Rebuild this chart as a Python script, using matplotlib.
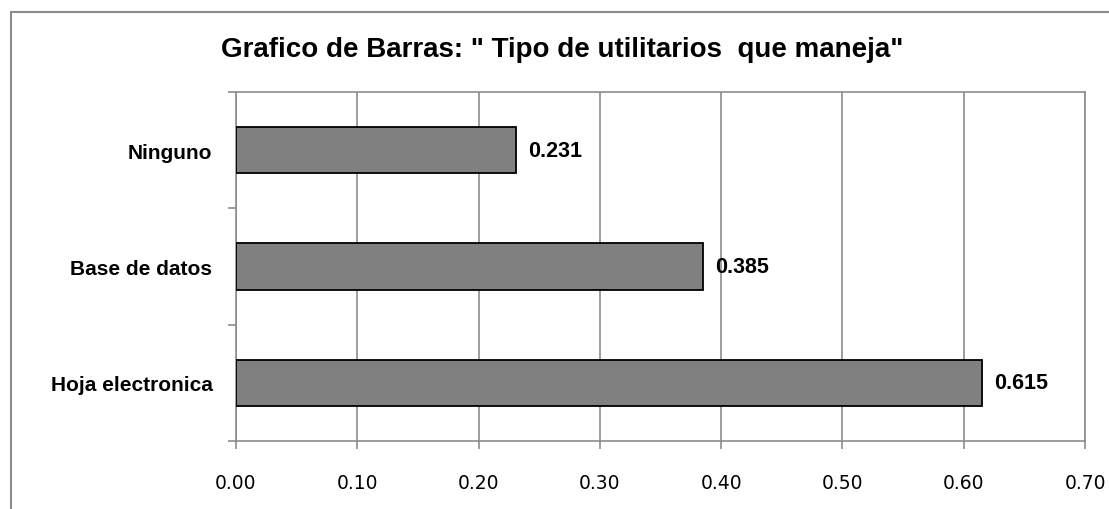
import matplotlib.pyplot as plt
import matplotlib.patches as patches
import numpy as np

# datos del grafico
categorias = ['Hoja electronica', 'Base de datos', 'Ninguno']
valores = [0.615, 0.385, 0.231]
etiquetas_x = ['0.00', '0.10', '0.20', '0.30', '0.40', '0.50', '0.60', '0.70']

gris = '#8c8c8c'

fig = plt.figure(figsize=(11.09, 5.10), dpi=100)
ax = fig.add_axes([236/1109, 1 - 442/510, (1085-236)/1109, (442-93)/510])

# marco exterior del grafico (solo se ve izquierda y arriba)
marco = patches.Rectangle((11/1109, -0.1), 1.2, 1 - 13/510 + 0.1,
                          transform=fig.transFigure, fill=False,
                          edgecolor=gris, linewidth=1.5, clip_on=False)
fig.patches.append(marco)

y = np.arange(len(categorias))
ax.barh(y, valores, height=0.4, color='#808080', edgecolor='black',
        linewidth=1.3, zorder=3)

for yi, v in zip(y, valores):
    ax.text(v + 0.01, yi, f'{v:.3f}', ha='left', va='center',
            fontsize=15.5, fontweight='bold', family='Liberation Sans')

ax.set_xlim(0, 0.7)
ax.set_ylim(-0.5, len(categorias) - 0.5)

ax.set_xticks(np.arange(0, 0.71, 0.1))
ax.set_xticklabels(etiquetas_x, fontsize=13.5, family='DejaVu Sans')
ax.xaxis.grid(True, color=gris, linewidth=1.2, zorder=0)
ax.tick_params(axis='x', length=6, width=1.2, color=gris, pad=17)

# ticks del eje y en los limites entre categorias, etiquetas centradas
ax.set_yticks(np.arange(-0.5, len(categorias), 1.0))
ax.set_yticklabels([])
ax.set_yticks(y, minor=True)
ax.set_yticklabels(categorias, minor=True, fontsize=15, fontweight='bold',
                   family='Liberation Sans')
ax.tick_params(axis='y', which='major', length=6, width=1.2, color=gris)
ax.tick_params(axis='y', which='minor', length=0, pad=17)

for s in ax.spines.values():
    s.set_color(gris)
    s.set_linewidth(1.2)

fig.text(562/1109, 1 - 50/510, 'Grafico de Barras: " Tipo de utilitarios  que maneja"',
         ha='center', va='center', fontsize=20, fontweight='bold',
         family='Liberation Sans')

plt.savefig('out.png', dpi=100)
